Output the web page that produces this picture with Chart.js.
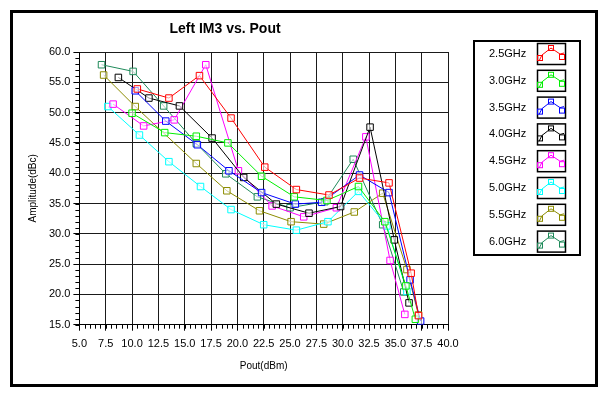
<!DOCTYPE html>
<html>
<head>
<meta charset="utf-8">
<script src="https://cdn.jsdelivr.net/npm/chart.js@4/dist/chart.umd.min.js"></script>
<style>
  html, body { margin: 0; padding: 0; background: #fff; }
  #wrap { width: 606px; height: 394px; }
</style>
</head>
<body>
<div id="wrap"><canvas id="chart" width="606" height="394"></canvas></div>
<script>
const SERIES_NAMES = ["2.5GHz", "3.0GHz", "3.5GHz", "4.0GHz", "4.5GHz", "5.0GHz", "5.5GHz", "6.0GHz"];
const SERIES_COLORS = ["#ff0000", "#00ee00", "#0000ff", "#000000", "#ff00ff", "#00ffff", "#8c8c00", "#1f8a5a"];

const pout25 = [10.5, 13.5, 16.4, 19.4, 22.6, 25.6, 28.7, 31.6, 34.4, 36.5, 37.2];
const im325 = [53.9, 52.4, 56.1, 49.1, 41.0, 37.3, 36.4, 39.2, 38.4, 23.5, 16.5];
const pout30 = [10.0, 13.1, 16.1, 19.1, 22.3, 25.4, 28.5, 31.5, 34.0, 36.0, 36.9];
const im330 = [49.9, 46.7, 46.1, 45.0, 39.5, 36.1, 35.5, 37.8, 32.0, 21.4, 15.9];
const pout35 = [10.3, 13.2, 16.2, 19.2, 22.3, 25.5, 28.0, 31.6, 34.4, 36.4, 37.4];
const im335 = [53.6, 48.6, 44.7, 40.4, 36.8, 34.9, 35.2, 39.7, 36.8, 22.4, 15.6];
const pout40 = [8.7, 11.6, 14.5, 17.6, 20.6, 23.7, 26.8, 29.8, 32.6, 34.9, 36.3];
const im340 = [55.8, 52.4, 51.1, 45.8, 39.3, 34.9, 33.4, 34.5, 47.6, 29.0, 18.6];
const pout45 = [8.2, 11.1, 14.0, 17.0, 20.1, 23.3, 26.3, 29.4, 32.2, 34.5, 35.9];
const im345 = [51.4, 47.8, 48.8, 57.9, 40.4, 34.6, 32.8, 34.3, 46.0, 25.6, 16.7];
const pout50 = [7.7, 10.7, 13.5, 16.5, 19.4, 22.5, 25.6, 28.6, 31.5, 34.2, 36.1];
const im350 = [51.0, 46.3, 41.9, 37.8, 34.0, 31.5, 30.6, 32.0, 37.0, 31.3, 20.5];
const pout55 = [7.3, 10.3, 16.1, 19.0, 22.1, 25.1, 28.2, 31.1, 33.8, 36.1, 37.2];
const im355 = [56.2, 51.0, 41.6, 37.1, 33.8, 32.0, 31.6, 33.6, 36.7, 24.1, 16.6];
const pout60 = [7.1, 10.1, 13.0, 16.1, 18.9, 21.9, 25.0, 28.3, 31.0, 33.8, 35.8];
const im360 = [57.9, 56.8, 51.1, 44.9, 39.9, 36.1, 34.3, 35.3, 42.3, 31.5, 20.4];

const POUT = [pout25, pout30, pout35, pout40, pout45, pout50, pout55, pout60];
const IM3 = [im325, im330, im335, im340, im345, im350, im355, im360];

const FONT = "\"Liberation Sans\", Arial, sans-serif";
Chart.defaults.font.family = FONT;

const datasets = SERIES_NAMES.map((name, s) => ({
  label: name,
  data: POUT[s].map((x, i) => ({ x, y: IM3[s][i] })),
  showLine: true,
  borderColor: SERIES_COLORS[s],
  borderWidth: 1,
  pointStyle: "rect",
  pointRadius: 4.6,
  pointBorderWidth: 1,
  pointBorderColor: SERIES_COLORS[s],
  pointBackgroundColor: "rgba(255,255,255,0.6)",
  tension: 0
}));

// minor ticks, titles, legend box, frame
Chart.register({
  id: "decor",
  afterDraw(chart) {
    const ctx = chart.ctx;
    const xs = chart.scales.x, ys = chart.scales.y;
    const area = chart.chartArea;
    ctx.save();
    ctx.strokeStyle = "#000";
    ctx.lineWidth = 1;
    // minor ticks
    ctx.beginPath();
    for (let v = 5; v <= 40.001; v += 0.5) {
      const px = Math.round(xs.getPixelForValue(v)) + 0.5;
      ctx.moveTo(px, area.bottom);
      ctx.lineTo(px, area.bottom + 4);
    }
    for (let v = 15; v <= 60.001; v += 1) {
      const py = Math.round(ys.getPixelForValue(v)) + 0.5;
      ctx.moveTo(area.left - 4, py);
      ctx.lineTo(area.left, py);
    }
    ctx.stroke();

    // title
    ctx.fillStyle = "#000";
    ctx.font = "bold 14px " + FONT;
    ctx.textAlign = "center";
    ctx.textBaseline = "middle";
    ctx.fillText("Left IM3 vs. Pout", 225, 29);

    // axis titles
    ctx.font = "10px " + FONT;
    ctx.fillText("Pout(dBm)", (area.left + area.right) / 2, 366);
    ctx.save();
    ctx.translate(33, (area.top + area.bottom) / 2);
    ctx.rotate(-Math.PI / 2);
    ctx.fillText("Amplitude(dBc)", 0, 0);
    ctx.restore();

    // legend box
    ctx.lineWidth = 2;
    ctx.strokeRect(474, 41, 106, 214);
    ctx.font = "11px " + FONT;
    ctx.textAlign = "left";
    SERIES_NAMES.forEach((name, i) => {
      const cy = 54 + i * 26.8;
      ctx.fillStyle = "#000";
      ctx.fillText(name, 489, cy);
      const bx = 537, by = cy - 11, bw = 28, bh = 21;
      ctx.lineWidth = 1.5;
      ctx.strokeStyle = "#000";
      ctx.strokeRect(bx + 0.5, by + 0.5, bw, bh);
      const col = SERIES_COLORS[i];
      ctx.strokeStyle = col;
      ctx.lineWidth = 1;
      const pts = [[bx + 3, by + 15], [bx + 14, by + 5], [bx + 25, by + 14]];
      ctx.beginPath();
      ctx.moveTo(bx + 2, by + 18);
      ctx.lineTo(pts[0][0] + 2, pts[0][1] - 3);
      ctx.lineTo(pts[1][0], pts[1][1]);
      ctx.lineTo(pts[2][0] - 2, pts[2][1] - 3);
      ctx.lineTo(bx + 27, by + 10);
      ctx.stroke();
      pts.forEach((p) => {
        ctx.strokeRect(p[0] - 2.5, p[1] - 2.5, 5, 5);
      });
    });

    // outer frame
    ctx.strokeStyle = "#000";
    ctx.lineWidth = 3;
    ctx.strokeRect(11.5, 11.5, 585, 374);
    ctx.restore();
  }
});

new Chart(document.getElementById("chart"), {
  type: "scatter",
  data: { datasets },
  options: {
    responsive: false,
    animation: false,
    events: [],
    layout: { padding: { left: 0, top: 52, right: 158, bottom: 0 } },
    plugins: {
      legend: { display: false },
      tooltip: { enabled: false },
      title: { display: false }
    },
    scales: {
      x: {
        type: "linear",
        min: 5,
        max: 40,
        afterFit: (scale) => { scale.height = 69.3; },
        afterBuildTicks: (scale) => {
          const t = [];
          for (let v = 5; v <= 40.001; v += 2.5) t.push({ value: v });
          scale.ticks = t;
        },
        border: { display: true, color: "#000", width: 1 },
        grid: { color: "#1a1a1a", lineWidth: 1, tickLength: 6, tickColor: "#000" },
        ticks: {
          color: "#000",
          padding: 7,
          font: { size: 11 },
          maxRotation: 0,
          autoSkip: false,
          callback: (v) => Number(v).toFixed(1)
        }
      },
      y: {
        type: "linear",
        min: 15,
        max: 60,
        afterFit: (scale) => { scale.width = 79.4; },
        afterBuildTicks: (scale) => {
          const t = [];
          for (let v = 15; v <= 60.001; v += 5) t.push({ value: v });
          scale.ticks = t;
        },
        border: { display: true, color: "#000", width: 1 },
        grid: { color: "#1a1a1a", lineWidth: 1, tickLength: 6, tickColor: "#000" },
        ticks: {
          color: "#000",
          padding: 3,
          font: { size: 11 },
          callback: (v) => Number(v).toFixed(1)
        }
      }
    }
  }
});
</script>
</body>
</html>
